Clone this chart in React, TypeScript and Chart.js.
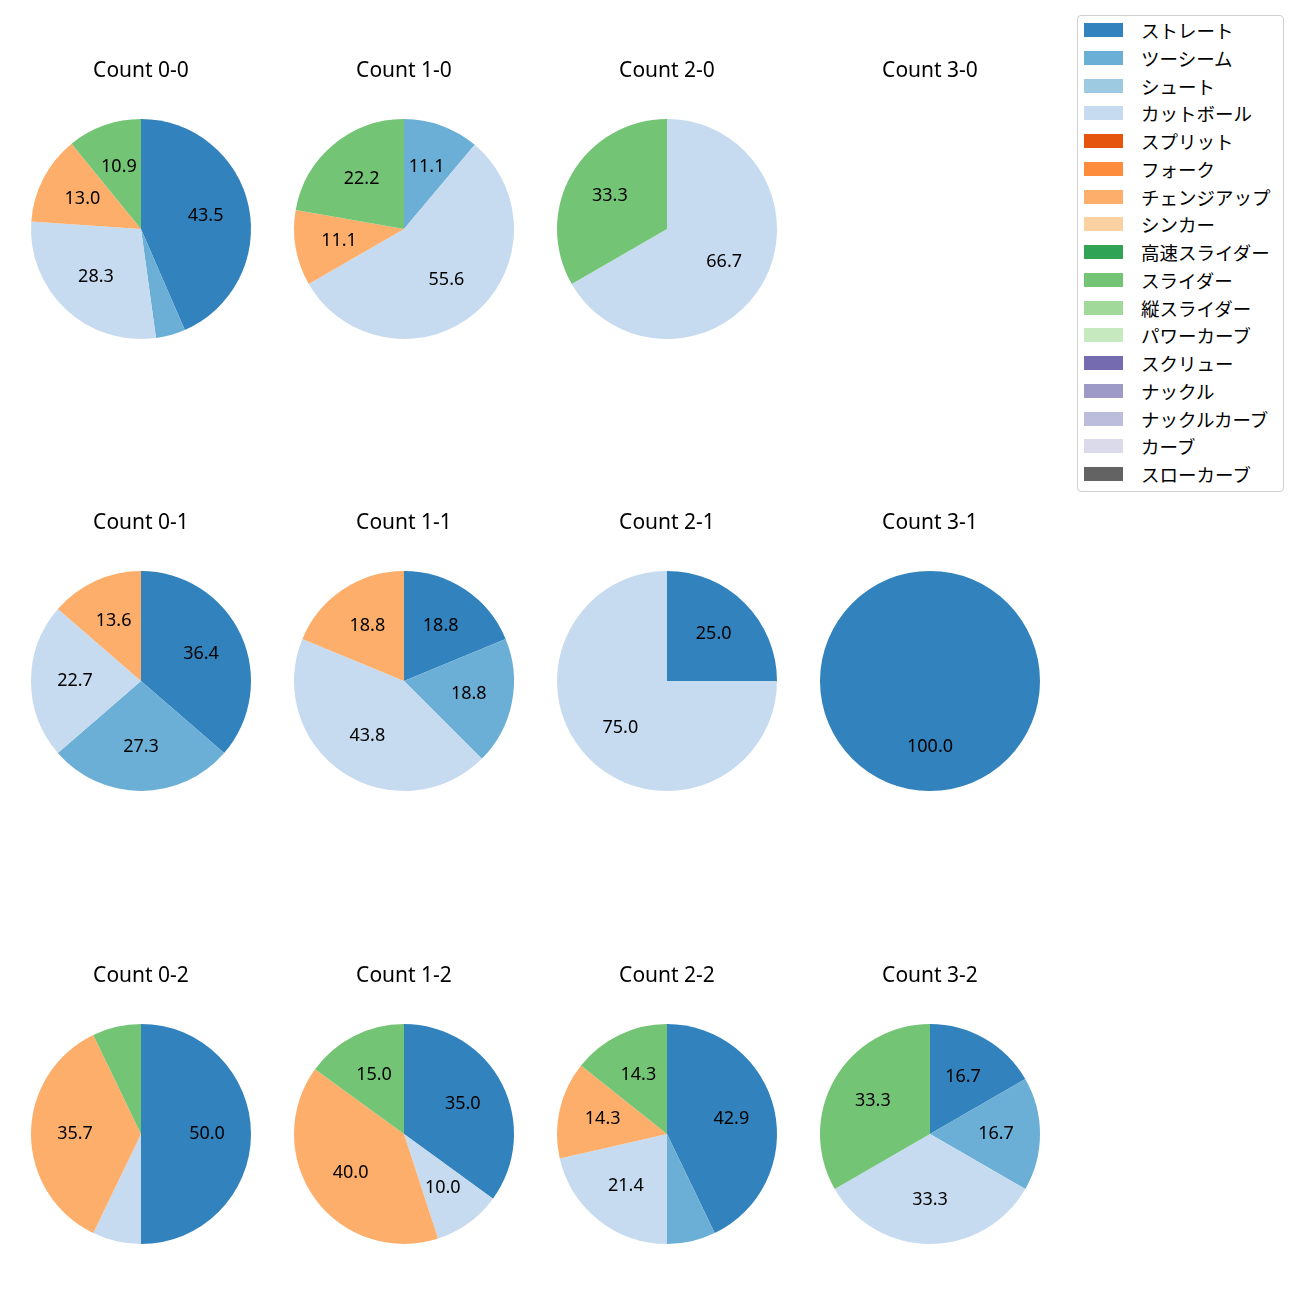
import React, { useEffect, useRef } from "react";
import { Chart, registerables } from "chart.js";

Chart.register(...registerables);

const FONT = "'Noto Sans', 'Noto Sans CJK JP', sans-serif";
const CJK_FONT = "'Noto Sans CJK JP', 'Noto Sans', sans-serif";

const pitchTypes = [
  "ストレート", "ツーシーム", "シュート", "カットボール", "スプリット", "フォーク",
  "チェンジアップ", "シンカー", "高速スライダー", "スライダー", "縦スライダー",
  "パワーカーブ", "スクリュー", "ナックル", "ナックルカーブ", "カーブ", "スローカーブ",
];
const pitchColors = [
  "#3182bd", "#6baed6", "#9ecae1", "#c6dbef", "#e6550d", "#fd8d3c",
  "#fdae6b", "#fdd0a2", "#31a354", "#74c476", "#a1d99b",
  "#c7e9c0", "#756bb1", "#9e9ac8", "#bcbddc", "#dadaeb", "#636363",
];

// pitch counts per ball-strike count, in pitchTypes order
const count00 = [20, 2, 0, 13, 0, 0, 6, 0, 0, 5, 0, 0, 0, 0, 0, 0, 0];
const count10 = [0, 1, 0, 5, 0, 0, 1, 0, 0, 2, 0, 0, 0, 0, 0, 0, 0];
const count20 = [0, 0, 0, 2, 0, 0, 0, 0, 0, 1, 0, 0, 0, 0, 0, 0, 0];
const count30 = [0, 0, 0, 0, 0, 0, 0, 0, 0, 0, 0, 0, 0, 0, 0, 0, 0];
const count01 = [8, 6, 0, 5, 0, 0, 3, 0, 0, 0, 0, 0, 0, 0, 0, 0, 0];
const count11 = [3, 3, 0, 7, 0, 0, 3, 0, 0, 0, 0, 0, 0, 0, 0, 0, 0];
const count21 = [1, 0, 0, 3, 0, 0, 0, 0, 0, 0, 0, 0, 0, 0, 0, 0, 0];
const count31 = [1, 0, 0, 0, 0, 0, 0, 0, 0, 0, 0, 0, 0, 0, 0, 0, 0];
const count02 = [7, 0, 0, 1, 0, 0, 5, 0, 0, 1, 0, 0, 0, 0, 0, 0, 0];
const count12 = [7, 0, 0, 2, 0, 0, 8, 0, 0, 3, 0, 0, 0, 0, 0, 0, 0];
const count22 = [6, 1, 0, 3, 0, 0, 2, 0, 0, 2, 0, 0, 0, 0, 0, 0, 0];
const count32 = [1, 1, 0, 2, 0, 0, 0, 0, 0, 2, 0, 0, 0, 0, 0, 0, 0];

const panelTitles = [
  ["Count 0-0", "Count 1-0", "Count 2-0", "Count 3-0"],
  ["Count 0-1", "Count 1-1", "Count 2-1", "Count 3-1"],
  ["Count 0-2", "Count 1-2", "Count 2-2", "Count 3-2"],
];
const panelData = [
  [count00, count10, count20, count30],
  [count01, count11, count21, count31],
  [count02, count12, count22, count32],
];

const colCenters = [141, 404, 667, 930];
const rowCenters = [229, 681, 1134];
const CW = 260;
const CH = 380;

function PiePanel({ title, values, cx, cy }: { title: string; values: number[]; cx: number; cy: number }) {
  const ref = useRef<HTMLCanvasElement | null>(null);
  useEffect(() => {
    if (!ref.current) return;
    const total = values.reduce((a, b) => a + b, 0);
    const labelPlugin = {
      id: "pctLabels",
      afterDatasetsDraw(chart: any) {
        const ctx = chart.ctx;
        const meta = chart.getDatasetMeta(0);
        ctx.save();
        ctx.font = `18px ${FONT}`;
        ctx.fillStyle = "#000";
        ctx.textAlign = "center";
        ctx.textBaseline = "middle";
        meta.data.forEach((arc: any, i: number) => {
          const v = values[i];
          if (!v || total === 0) return;
          const pct = (v / total) * 100;
          if (pct < 10) return;
          const p = arc.getProps(["x", "y", "startAngle", "endAngle", "outerRadius"], true);
          const mid = (p.startAngle + p.endAngle) / 2;
          const r = 0.6 * p.outerRadius;
          ctx.fillText(pct.toFixed(1), p.x + Math.cos(mid) * r, p.y + Math.sin(mid) * r);
        });
        ctx.restore();
      },
      afterDraw(chart: any) {
        const ctx = chart.ctx;
        ctx.save();
        ctx.font = `21px ${FONT}`;
        ctx.fillStyle = "#000";
        ctx.textAlign = "center";
        ctx.textBaseline = "middle";
        ctx.fillText(title, CW / 2, 32);
        ctx.restore();
      },
    };
    const chart = new Chart(ref.current, {
      type: "pie",
      data: {
        labels: pitchTypes,
        datasets: [
          {
            data: values,
            backgroundColor: pitchColors,
            borderWidth: 0,
          },
        ],
      },
      options: {
        responsive: false,
        animation: false,
        layout: { padding: { top: 80, bottom: 80, left: 20, right: 20 } },
        plugins: {
          legend: { display: false },
          tooltip: { enabled: false },
          title: { display: false },
        },
      },
      plugins: [labelPlugin],
    });
    return () => chart.destroy();
  }, [title, values]);
  return (
    <canvas
      ref={ref}
      width={CW}
      height={CH}
      style={{ position: "absolute", left: cx - CW / 2, top: cy - CH / 2, width: CW, height: CH }}
    />
  );
}

export default function App() {
  const legendTop = 15;
  const rowStep = 27.75;
  return (
    <div style={{ position: "absolute", left: 0, top: 0, width: 1300, height: 1300, background: "#fff", fontFamily: CJK_FONT }}>
      {panelTitles.map((row, r) =>
        row.map((t, c) => (
          <PiePanel key={t} title={t} values={panelData[r][c]} cx={colCenters[c]} cy={rowCenters[r]} />
        ))
      )}
      <div
        style={{
          position: "absolute",
          left: 1077,
          top: legendTop,
          width: 207,
          height: 477,
          border: "1px solid #d0d0d0",
          borderRadius: 4,
          background: "#fff",
          boxSizing: "border-box",
        }}
      >
        {pitchTypes.map((name, i) => {
          const yc = 29 + i * rowStep - legendTop;
          return (
            <React.Fragment key={name}>
              <div
                style={{
                  position: "absolute",
                  left: 6,
                  top: yc - 7,
                  width: 39,
                  height: 14,
                  background: pitchColors[i],
                }}
              />
              <div
                style={{
                  position: "absolute",
                  left: 63,
                  top: yc - 14,
                  height: 28,
                  lineHeight: "28px",
                  fontSize: 18.5,
                  color: "#000",
                  whiteSpace: "nowrap",
                }}
              >
                {name}
              </div>
            </React.Fragment>
          );
        })}
      </div>
    </div>
  );
}
